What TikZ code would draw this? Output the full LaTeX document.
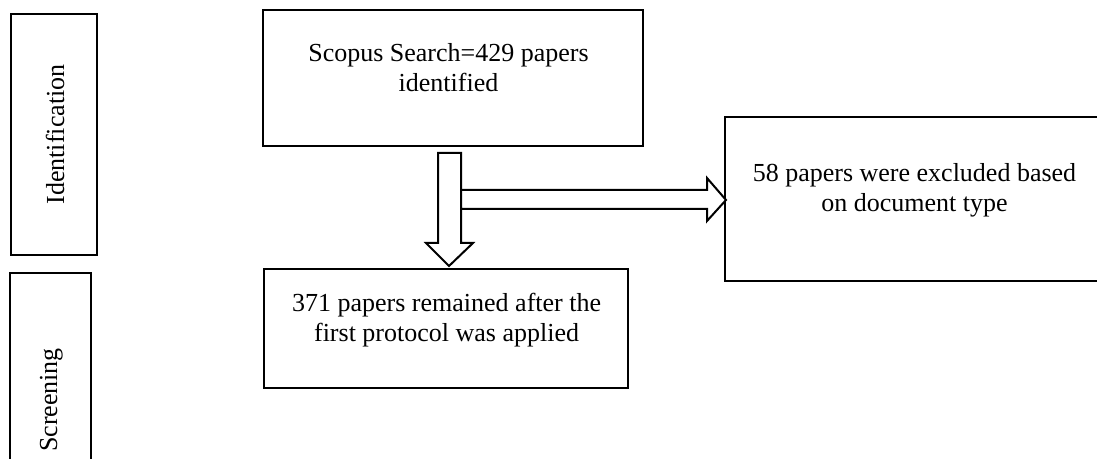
\documentclass[tikz,border=0pt]{standalone}
\usepackage{fontspec}
\setmainfont{Liberation Serif}
\begin{document}
\begin{tikzpicture}[x=0.75pt,y=-0.75pt,
  box/.style={draw=black, line width=1.7pt, rectangle, inner sep=0pt},
  txt/.style={font=\fontsize{19.5}{22.5}\selectfont, align=center, inner sep=0pt},
  blockarrow/.style={draw=black, line width=1.5pt, fill=white, line join=miter}]
\useasboundingbox (0,0) rectangle (1097,459);
\clip (0,0) rectangle (1097,459);
% boxes
\node[box, minimum width=64.5pt, minimum height=180.75pt] (ident) at (54,134.5) {};
\node[box, minimum width=60.75pt, minimum height=147.75pt] (screen) at (50.5,371.5) {};
\node[box, minimum width=285pt, minimum height=102pt] (scopus) at (453,78) {};
\node[box, minimum width=285pt, minimum height=123pt] (excl) at (915,199) {};
\node[box, minimum width=273pt, minimum height=89.25pt] (rem) at (446,328.5) {};
% texts
\node[txt, rotate=90, anchor=base] (identlbl) at (64,134.5) {Identification};
\node[txt, rotate=90, anchor=base] (screenlbl) at (57,400) {Screening};
\node[txt, anchor=base] (scopuslbl) at (448.5,92) {Scopus Search=429 papers\\identified};
\node[txt, anchor=base] (excllbl) at (914.5,212) {58 papers were excluded based\\on document type};
\node[txt, anchor=base] (remlbl) at (446.6,341.7) {371 papers remained after the\\first protocol was applied};
% block arrows
\draw[blockarrow] (438,153) -- (461,153) -- (461,243) -- (473,243) -- (449,266) -- (426,243) -- (438,243) -- cycle;
\draw[blockarrow] (461,190) -- (707,190) -- (707,178) -- (726,200) -- (707,221) -- (707,209) -- (461,209) -- cycle;
\end{tikzpicture}
\end{document}
